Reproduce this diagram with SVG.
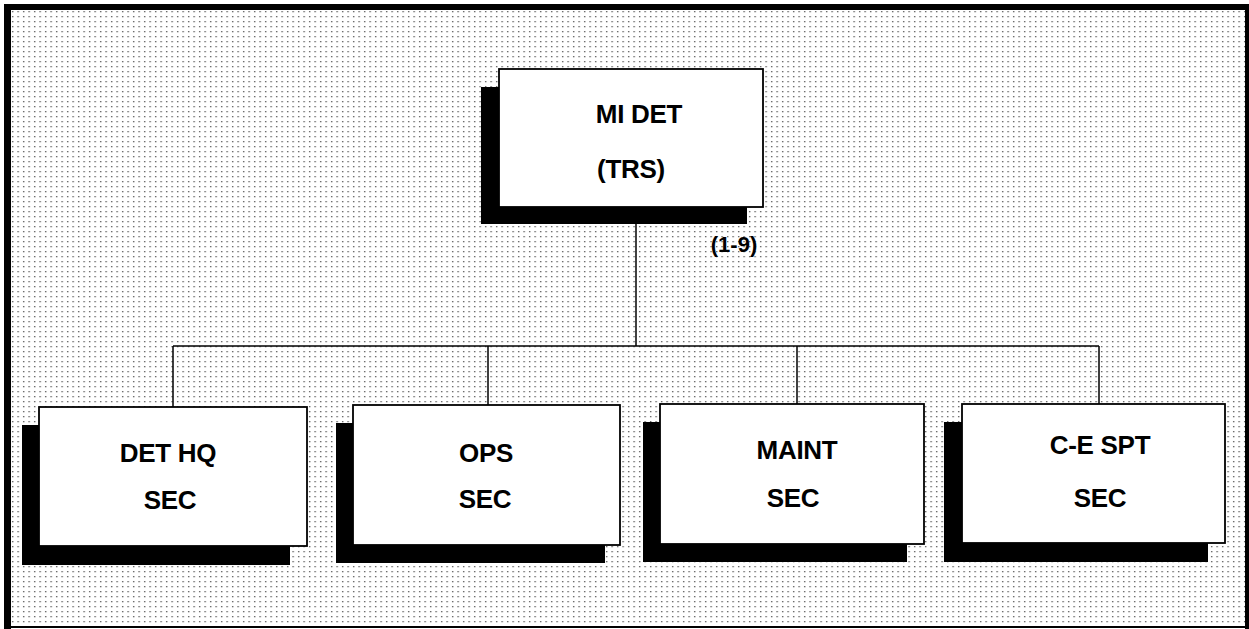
<svg xmlns="http://www.w3.org/2000/svg" width="1249" height="629" viewBox="0 0 1249 629">
<defs>
<pattern id="dots" x="0" y="0" width="5.5" height="5" patternUnits="userSpaceOnUse">
<rect x="1" y="1" width="1.3" height="1.3" fill="#555"/>
</pattern>
</defs>
<style>
.shadow{fill:#000}
.box{fill:#fff;stroke:#000;stroke-width:1.8}
.lbl{font-family:"Liberation Sans",Arial,sans-serif;font-weight:bold;font-size:26px;fill:#000;text-anchor:middle;letter-spacing:-0.3px}
.conn{stroke:#000;stroke-width:1.5;fill:none}
</style>
<rect x="0" y="0" width="1249" height="629" fill="#fff"/>
<rect x="7" y="7" width="1240" height="620" fill="url(#dots)"/>
<g id="frame">
<rect x="4" y="4" width="1245" height="6" fill="#000"/>
<rect x="4" y="4" width="7" height="625" fill="#000"/>
<rect x="1245" y="4" width="4" height="625" fill="#000"/>
<rect x="4" y="626" width="1245" height="2" fill="#000"/>
</g>
<g id="connectors">
<line class="conn" x1="636" y1="207" x2="636" y2="346"/>
<line class="conn" x1="173" y1="346" x2="1099" y2="346"/>
<line class="conn" x1="173" y1="346" x2="173" y2="407"/>
<line class="conn" x1="488" y1="346" x2="488" y2="405"/>
<line class="conn" x1="797" y1="346" x2="797" y2="404"/>
<line class="conn" x1="1099" y1="346" x2="1099" y2="404"/>
</g>
<g id="mi-det">
<rect class="shadow" x="481" y="87" width="266" height="137"/>
<rect class="box" x="499" y="69" width="264" height="138"/>
<text class="lbl" x="639" y="123">MI DET</text>
<text class="lbl" x="631" y="178">(TRS)</text>
</g>
<text id="strength" class="lbl" x="734" y="252" style="font-size:22px;letter-spacing:0">(1-9)</text>
<g id="det-hq">
<rect class="shadow" x="22" y="425" width="268" height="140"/>
<rect class="box" x="39" y="407" width="268" height="139"/>
<text class="lbl" x="168" y="462">DET HQ</text>
<text class="lbl" x="170" y="509">SEC</text>
</g>
<g id="ops">
<rect class="shadow" x="336" y="423" width="269" height="140"/>
<rect class="box" x="353" y="405" width="267" height="140"/>
<text class="lbl" x="486" y="462">OPS</text>
<text class="lbl" x="485" y="508">SEC</text>
</g>
<g id="maint">
<rect class="shadow" x="643" y="422" width="264" height="140"/>
<rect class="box" x="660" y="404" width="264" height="140"/>
<text class="lbl" x="797" y="459">MAINT</text>
<text class="lbl" x="793" y="507">SEC</text>
</g>
<g id="ce-spt">
<rect class="shadow" x="944" y="422" width="264" height="140"/>
<rect class="box" x="962" y="404" width="263" height="139"/>
<text class="lbl" x="1100" y="454">C-E SPT</text>
<text class="lbl" x="1100" y="507">SEC</text>
</g>
</svg>
